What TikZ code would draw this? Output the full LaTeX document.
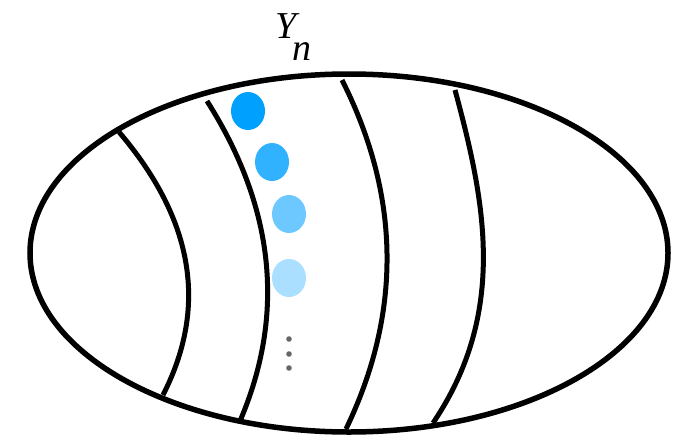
\documentclass[tikz,border=0pt]{standalone}
\usepackage{fontspec}
\setmainfont{Liberation Serif}
\definecolor{dotA}{HTML}{00A0FF}
\definecolor{dotB}{HTML}{30B2FF}
\definecolor{dotC}{HTML}{6CC8FF}
\definecolor{dotD}{HTML}{AADFFF}
\definecolor{dotgray}{HTML}{666666}
\begin{document}
\begin{tikzpicture}[x=1pt,y=-1pt,
  outline/.style={line width=5.5pt,black},
  band/.style={line width=5pt,black},
  blob/.style={x radius=17pt,y radius=19pt},
  tiny/.style={fill=dotgray}]
\useasboundingbox (0,0) rectangle (684,436);
\fill[white] (0,0) rectangle (684,436);
% bands
\draw[band] (119,132) .. controls (194,220) and (208,307) .. (163,395);
\draw[band] (207,101) .. controls (274.7,207.7) and (285.7,314.3) .. (240,421);
\draw[band] (342,80) .. controls (400.7,196.3) and (402,312.7) .. (346,429);
\draw[band] (455,90) .. controls (485,201) and (508,312) .. (433,423);
% outline
\draw[outline] (349,253) ellipse [x radius=319pt, y radius=179pt];
% dots
\fill[dotA] (248,111) ellipse [blob];
\fill[dotB] (272,162) ellipse [blob];
\fill[dotC] (289,214) ellipse [blob];
\fill[dotD] (289,278) ellipse [blob];
\fill[tiny] (289,339) circle (2.8pt);
\fill[tiny] (289,354) circle (2.8pt);
\fill[tiny] (289,368) circle (2.8pt);
% label
\node[anchor=base west,inner sep=0pt,font=\fontsize{38}{38}\selectfont\itshape] (Y) at (275,38) {Y};
\node[anchor=base west,inner sep=0pt,font=\fontsize{38}{38}\selectfont\itshape] (n) at (292,60) {n};
\end{tikzpicture}
\end{document}
